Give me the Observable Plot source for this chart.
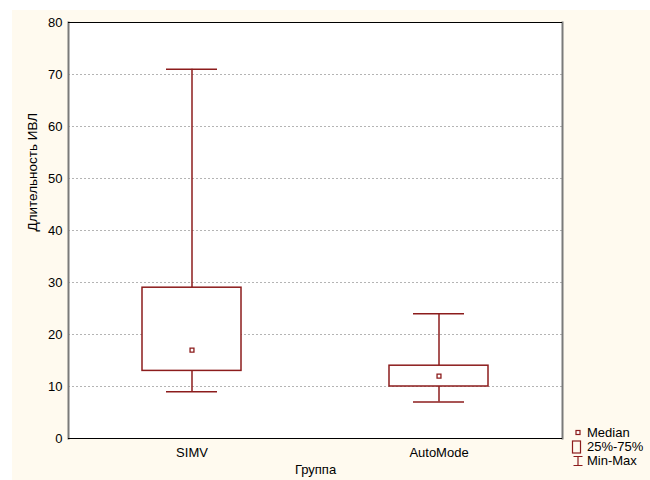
<!DOCTYPE html>
<html>
<head>
<meta charset="utf-8">
<script src="https://cdn.jsdelivr.net/npm/d3@7"></script>
<script src="https://cdn.jsdelivr.net/npm/@observablehq/plot@0.6"></script>
<style>
  body { margin: 0; background: #ffffff; }
  #wrap { position: relative; width: 650px; height: 480px; background: #ffffff; font-family: "Liberation Sans", Arial, sans-serif; }
  #chart { position: absolute; left: 12px; top: 10px; }
  #legend { position: absolute; left: 570px; top: 426px; font-size: 13px; color: #000; line-height: 14px; }
  #legend div { display: flex; align-items: center; height: 14px; }
  #legend svg { width: 16px; height: 14px; flex: none; }
</style>
</head>
<body>
<div id="wrap">
  <div id="chart"></div>
  <div id="legend"></div>
</div>
<script>
const groups = ["SIMV", "AutoMode"];
const minV = [9, 7];
const q1 = [13, 10];
const median = [17, 12];
const q3 = [29, 14];
const maxV = [71, 24];
const yTicks = [0, 10, 20, 30, 40, 50, 60, 70, 80];
const gridTicks = [10, 20, 30, 40, 50, 60, 70];
const yLabel = "Длительность ИВЛ";
const xLabel = "Группа";
const legendItems = ["Median", "25%-75%", "Min-Max"];

const data = groups.map((g, i) => ({group: g, lo: minV[i], boxLo: q1[i], mid: median[i], boxHi: q3[i], hi: maxV[i]}));
const red = "#8c1c1c";
const font = "Liberation Sans, Arial, sans-serif";

const plot = Plot.plot({
  width: 638,
  height: 470,
  marginLeft: 56,
  marginRight: 88,
  marginTop: 12,
  marginBottom: 42,
  style: {background: "#fffaef", fontFamily: font, fontSize: "13px", color: "#000"},
  x: {type: "band", domain: groups, padding: 0, label: null},
  y: {domain: [0, 80], label: null},
  marks: [
    Plot.frame({fill: "#ffffff", stroke: "none"}),
    Plot.gridY(gridTicks, {stroke: "#b4b4b4", strokeOpacity: 1, strokeDasharray: "2,2"}),
    Plot.axisY({ticks: yTicks, tickSize: 0, tickPadding: 6, label: null, fontSize: 13}),
    Plot.axisX({tickSize: 0, tickPadding: 9, label: null, fontSize: 13}),
    Plot.frame({anchor: "left", stroke: "#7a7a7a", strokeWidth: 2}),
    Plot.frame({anchor: "right", stroke: "#7a7a7a", strokeWidth: 2}),
    Plot.ruleY([80], {stroke: "#000", strokeWidth: 1}),
    Plot.ruleY([0], {stroke: "#000", strokeWidth: 1}),
    Plot.ruleX(data, {x: "group", y1: "lo", y2: "boxLo", stroke: red, strokeWidth: 1.5}),
    Plot.ruleX(data, {x: "group", y1: "boxHi", y2: "hi", stroke: red, strokeWidth: 1.5}),
    Plot.tickY(data, {x: "group", y: "lo", stroke: red, strokeWidth: 1.5, inset: 98}),
    Plot.tickY(data, {x: "group", y: "hi", stroke: red, strokeWidth: 1.5, inset: 98}),
    Plot.barY(data, {x: "group", y1: "boxLo", y2: "boxHi", fill: "#ffffff", stroke: red, strokeWidth: 1.5, insetLeft: 74, insetRight: 74}),
    Plot.dot(data, {x: "group", y: "mid", symbol: "square", r: 2.2, stroke: red, strokeWidth: 1.3, fill: "#fff"}),
    Plot.text([yLabel], {frameAnchor: "left", dx: -36, dy: 1, rotate: -90, fontSize: 13.5, fill: "#000"}),
    Plot.text([xLabel], {frameAnchor: "bottom", dy: 35, fontSize: 13, fill: "#000"})
  ]
});
document.getElementById("chart").appendChild(plot);

const icons = [
  `<svg viewBox="0 0 16 14"><rect x="6" y="4.5" width="4" height="4" fill="#fff" stroke="${red}" stroke-width="1.2"/></svg>`,
  `<svg viewBox="0 0 16 14"><rect x="2.5" y="1" width="8" height="12" fill="none" stroke="${red}" stroke-width="1.2"/></svg>`,
  `<svg viewBox="0 0 16 14"><path d="M3.5 2.5H12.5M8 2.5V11.5M3.5 11.5H12.5" fill="none" stroke="${red}" stroke-width="1.2"/></svg>`
];
const legend = document.getElementById("legend");
legendItems.forEach((t, i) => {
  const row = document.createElement("div");
  row.innerHTML = icons[i] + `<span style="margin-left:1px">${t}</span>`;
  legend.appendChild(row);
});
</script>
</body>
</html>
